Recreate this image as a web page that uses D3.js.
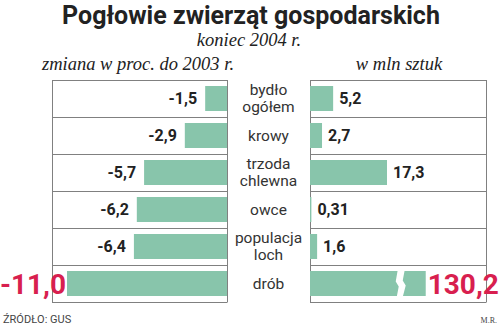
<!DOCTYPE html>
<html><head><meta charset="utf-8">
<script src="https://cdn.jsdelivr.net/npm/d3@7"></script>
<style>body{margin:0;background:#fff}svg{display:block}</style>
</head><body>
<svg id="c" width="500" height="335"></svg>
<script>
const categories = [["bydło","ogółem"],["krowy"],["trzoda","chlewna"],["owce"],["populacja","loch"],["drób"]];
const changePct = [-1.5,-2.9,-5.7,-6.2,-6.4,-11.0];
const changeLabels = ["-1,5","-2,9","-5,7","-6,2","-6,4","-11,0"];
const millions = [5.2,2.7,17.3,0.31,1.6,130.2];
const millionLabels = ["5,2","2,7","17,3","0,31","1,6","130,2"];
const highlight = [false,false,false,false,false,true];
const rightCap = 26; // broken-axis display cap for the right panel

const svg = d3.select("#c");
const green = "#88c5ab", red = "#d81f4f", grid = "#808080", ink = "#222";

const y = d3.scaleBand().domain(d3.range(categories.length)).range([80,302]).paddingInner(0).paddingOuter(0);
const xL = d3.scaleLinear().domain([0,11]).range([227,67]);
const xR = d3.scaleLinear().domain([0,17.3]).range([310,387]);

// title
svg.append("text").attr("x",251).attr("y",24).attr("text-anchor","middle")
  .style("font","bold 25px Roboto").attr("fill",ink).text("Pogłowie zwierząt gospodarskich");
svg.append("text").attr("x",249).attr("y",46).attr("text-anchor","middle")
  .style("font","italic 18.5px 'Liberation Serif'").attr("fill",ink).text("koniec 2004 r.");
svg.append("text").attr("x",138).attr("y",70).attr("text-anchor","middle")
  .style("font","italic 18.5px 'Liberation Serif'").attr("fill",ink).text("zmiana w proc. do 2003 r.");
svg.append("text").attr("x",399).attr("y",70).attr("text-anchor","middle")
  .style("font","italic 18.5px 'Liberation Serif'").attr("fill",ink).text("w mln sztuk");

// grid lines
const rowsEdges = d3.range(categories.length+1).map(i => i<categories.length ? y(i) : y.range()[1]);
rowsEdges.forEach(e => {
  svg.append("line").attr("x1",52).attr("x2",227).attr("y1",e+0.5).attr("y2",e+0.5).attr("stroke",grid);
  svg.append("line").attr("x1",310).attr("x2",486).attr("y1",e+0.5).attr("y2",e+0.5).attr("stroke",grid);
});
[52.5,227.5,310.5,486.5].forEach(x => svg.append("line").attr("x1",x).attr("x2",x).attr("y1",80).attr("y2",302.5).attr("stroke",grid));

const bh = y.bandwidth()-12;
// left bars
svg.selectAll(".bl").data(changePct).join("rect")
  .attr("x",d=>xL(-d)).attr("y",(d,i)=>y(i)+6).attr("width",d=>xL(0)-xL(-d)).attr("height",bh).attr("fill",green);
// right bars
svg.selectAll(".br").data(millions).join("rect")
  .attr("x",xR(0)).attr("y",(d,i)=>y(i)+6).attr("width",d=>xR(Math.min(d,rightCap))-xR(0)).attr("height",bh).attr("fill",green);
// break mark on capped bar
millions.forEach((d,i) => {
  if (d > rightCap) {
    const bx = xR(rightCap) - 26, t = y(i)+5, b = y(i)+y.bandwidth()-5;
    const m = (t+b)/2;
    const pts = [[bx-2,t],[bx+5,t],[bx+3,m-3],[bx+6,m+2],[bx+3,b],[bx-3,b],[bx-1,m+3],[bx-4,m-2]];
    svg.append("polygon").attr("points",pts.map(p=>p.join(",")).join(" ")).attr("fill","#fff");
  }
});

// value labels
svg.selectAll(".tl").data(changePct).join("text")
  .attr("x",(d,i)=>highlight[i] ? xL(-d)-1 : xL(-d)-8)
  .attr("y",(d,i)=>y(i)+y.bandwidth()/2+(highlight[i]?10:5.5))
  .attr("text-anchor","end")
  .style("font",(d,i)=>highlight[i] ? "bold 28px Roboto" : "bold 16px Roboto")
  .attr("fill",(d,i)=>highlight[i]?red:ink)
  .text((d,i)=>changeLabels[i]);
svg.selectAll(".tr").data(millions).join("text")
  .attr("x",d=>xR(Math.min(d,rightCap))+ (d>rightCap?2:6))
  .attr("y",(d,i)=>y(i)+y.bandwidth()/2+(highlight[i]?10:5.5))
  .style("font",(d,i)=>highlight[i] ? "bold 28px Roboto" : "bold 16px Roboto")
  .attr("fill",(d,i)=>highlight[i]?red:ink)
  .text((d,i)=>millionLabels[i]);

// category labels
categories.forEach((c,i) => {
  const cy = y(i)+y.bandwidth()/2;
  const t = svg.append("text").attr("text-anchor","middle").style("font","15.5px Roboto").attr("fill","#333");
  c.forEach((line,j) => {
    t.append("tspan").attr("x",268.5).attr("y",cy + 5 + (j - (c.length-1)/2)*17).text(line);
  });
});

// footer
svg.append("text").attr("x",3).attr("y",323).style("font","11px Roboto").attr("fill","#444").text("ŹRÓDŁO: GUS");
svg.append("text").attr("x",497).attr("y",323).attr("text-anchor","end").style("font","8px 'Liberation Serif'").attr("fill","#444").text("M.R.");
</script>
</body></html>
